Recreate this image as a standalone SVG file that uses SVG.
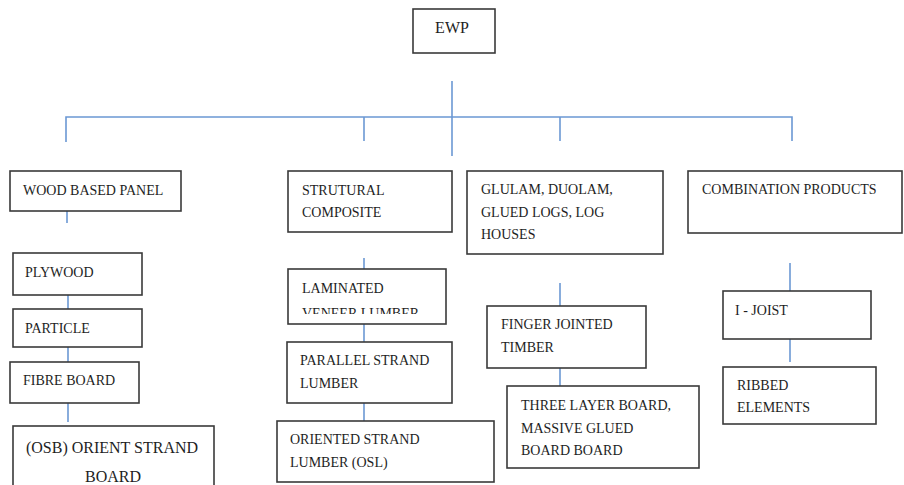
<svg xmlns="http://www.w3.org/2000/svg" width="904" height="485" viewBox="0 0 904 485">
<style>
.box{fill:#fff;stroke:#3a3a3a;stroke-width:1.6}
.t{font-family:"Liberation Serif","Times New Roman",serif;font-size:14px;fill:#1e1e1e}
.big{font-size:16px}
.c{stroke:#6b98d4;stroke-width:1.6;fill:none}
</style>
<defs>
<clipPath id="lvlClip"><rect x="289" y="270" width="156" height="44"/></clipPath>
<clipPath id="osbClip"><rect x="14" y="427" width="199" height="58"/></clipPath>
</defs>
<rect width="904" height="485" fill="#fff"/>
<g id="connectors">
<line class="c" x1="452" y1="81" x2="452" y2="156"/>
<polyline class="c" points="66,142 66,117 792,117 792,141"/>
<line class="c" x1="364" y1="117" x2="364" y2="141"/>
<line class="c" x1="560" y1="117" x2="560" y2="141"/>
<line class="c" x1="67" y1="211" x2="67" y2="223"/>
<line class="c" x1="68" y1="295" x2="68" y2="309"/>
<line class="c" x1="68" y1="347" x2="68" y2="362"/>
<line class="c" x1="68" y1="403" x2="68" y2="422"/>
<line class="c" x1="364" y1="258" x2="364" y2="269"/>
<line class="c" x1="364" y1="324" x2="364" y2="342"/>
<line class="c" x1="364" y1="403" x2="364" y2="421"/>
<line class="c" x1="560" y1="283" x2="560" y2="306"/>
<line class="c" x1="560" y1="368" x2="560" y2="386"/>
<line class="c" x1="790" y1="263" x2="790" y2="291"/>
<line class="c" x1="790" y1="339" x2="790" y2="362"/>
</g>
<g id="ewp">
<rect class="box" x="413" y="9" width="82" height="44"/>
<text class="t big" x="452" y="33" text-anchor="middle">EWP</text>
</g>
<g id="wood-based-panel">
<rect class="box" x="10" y="171" width="171" height="40"/>
<text class="t" x="23" y="195">WOOD BASED PANEL</text>
</g>
<g id="plywood">
<rect class="box" x="13" y="253" width="129" height="42"/>
<text class="t" x="25" y="277">PLYWOOD</text>
</g>
<g id="particle">
<rect class="box" x="13" y="309" width="129" height="38"/>
<text class="t" x="25" y="333">PARTICLE</text>
</g>
<g id="fibre-board">
<rect class="box" x="10" y="362" width="129" height="41"/>
<text class="t" x="23" y="385">FIBRE BOARD</text>
</g>
<g id="osb">
<rect class="box" x="13" y="426" width="201" height="62"/>
<g clip-path="url(#osbClip)">
<text class="t big" x="112" y="453" text-anchor="middle">(OSB) ORIENT STRAND</text>
<text class="t big" x="113" y="482" text-anchor="middle">BOARD</text>
</g>
</g>
<g id="structural-composite">
<rect class="box" x="288" y="171" width="164" height="61"/>
<text class="t" x="302" y="195">STRUTURAL</text>
<text class="t" x="302" y="217">COMPOSITE</text>
</g>
<g id="lvl">
<rect class="box" x="288" y="269" width="158" height="55"/>
<text class="t" x="302" y="293">LAMINATED</text>
<g clip-path="url(#lvlClip)"><text class="t" x="302" y="318">VENEER LUMBER</text></g>
</g>
<g id="psl">
<rect class="box" x="287" y="342" width="165" height="61"/>
<text class="t" x="300" y="365">PARALLEL STRAND</text>
<text class="t" x="300" y="388">LUMBER</text>
</g>
<g id="osl">
<rect class="box" x="277" y="421" width="217" height="61"/>
<text class="t" x="290" y="444">ORIENTED STRAND</text>
<text class="t" x="290" y="467">LUMBER (OSL)</text>
</g>
<g id="glulam">
<rect class="box" x="467" y="171" width="196" height="83"/>
<text class="t" x="481" y="194">GLULAM, DUOLAM,</text>
<text class="t" x="481" y="217">GLUED LOGS, LOG</text>
<text class="t" x="481" y="239">HOUSES</text>
</g>
<g id="finger-jointed">
<rect class="box" x="487" y="306" width="159" height="62"/>
<text class="t" x="501" y="329">FINGER JOINTED</text>
<text class="t" x="501" y="352">TIMBER</text>
</g>
<g id="three-layer">
<rect class="box" x="507" y="386" width="192" height="82"/>
<text class="t" x="521" y="410">THREE LAYER BOARD,</text>
<text class="t" x="521" y="433">MASSIVE GLUED</text>
<text class="t" x="521" y="455">BOARD BOARD</text>
</g>
<g id="combination">
<rect class="box" x="688" y="171" width="214" height="62"/>
<text class="t" x="702" y="194">COMBINATION PRODUCTS</text>
</g>
<g id="i-joist">
<rect class="box" x="723" y="291" width="148" height="48"/>
<text class="t" x="735" y="315">I - JOIST</text>
</g>
<g id="ribbed">
<rect class="box" x="723" y="367" width="153" height="57"/>
<text class="t" x="737" y="390">RIBBED</text>
<text class="t" x="737" y="412">ELEMENTS</text>
</g>
</svg>
